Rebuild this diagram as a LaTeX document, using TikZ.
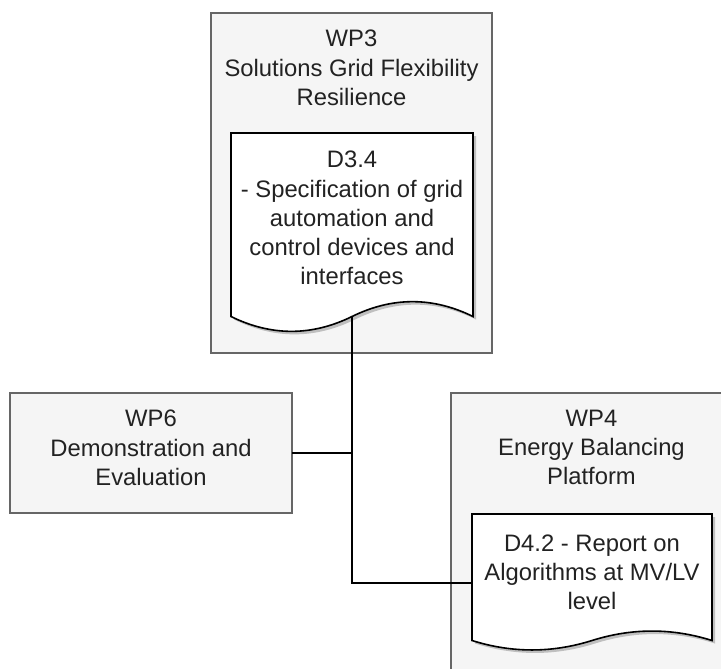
\documentclass[tikz,border=0pt]{standalone}
\usepackage{fontspec}
\setmainfont{Liberation Sans}
\begin{document}
\begin{tikzpicture}[x=0.75pt,y=-0.75pt,
  wpbox/.style={draw=boxline,fill=boxfill,line width=1.1pt,rectangle,inner sep=0pt,outer sep=0pt,anchor=north west},
  txt/.style={text=txtcol,align=center,inner sep=0pt,anchor=north,font=\fontsize{17.85}{21.9}\selectfont},
  docshape/.style={draw=black,fill=white,line width=1.2pt,line join=miter},
  docshadow/.style={fill=black,fill opacity=0.22,draw=none},
  conn/.style={draw=black,line width=1.1pt}]
\definecolor{boxline}{HTML}{666666}
\definecolor{boxfill}{HTML}{F5F5F5}
\definecolor{txtcol}{HTML}{222222}
\useasboundingbox (0,0) rectangle (721,668);
\clip (0,0) rectangle (721,668);
% work package boxes
\node[wpbox,minimum width=210.75pt,minimum height=255pt] (wp3) at (211,13) {};
\node[wpbox,minimum width=211.5pt,minimum height=90pt] (wp6) at (10,393) {};
\node[wpbox,minimum width=210.75pt,minimum height=245.25pt] (wp4) at (451,393) {};
% titles
\node[txt] (wp3t) at (351.5,30) {WP3\\Solutions Grid Flexibility\\Resilience};
\node[txt] (wp6t) at (151,410) {WP6\\Demonstration and\\Evaluation};
\node[txt] (wp4t) at (591.5,409.5) {WP4\\Energy Balancing\\Platform};
% document D3.4
\path[docshadow,shift={(3,3)}] (231,133) -- (473,133) -- (473,316.5) .. controls (432.7,296.7) and (392.3,296.7) .. (352,316.5) .. controls (311.7,336.3) and (271.3,336.3) .. (231,316.5) -- cycle;
\path[docshape] (231,133) -- (473,133) -- (473,316.5) .. controls (432.7,296.7) and (392.3,296.7) .. (352,316.5) .. controls (311.7,336.3) and (271.3,336.3) .. (231,316.5) -- cycle;
\node[txt] (d34t) at (352,151) {D3.4\\- Specification of grid\\automation and\\control devices and\\interfaces};
\coordinate (d34b) at (352,316.5);
% document D4.2
\path[docshadow,shift={(3,3)}] (472,514) -- (712,514) -- (712,640.5) .. controls (672,627.9) and (632,627.9) .. (592,640.5) .. controls (552,653.1) and (512,653.1) .. (472,640.5) -- cycle;
\path[docshape] (472,514) -- (712,514) -- (712,640.5) .. controls (672,627.9) and (632,627.9) .. (592,640.5) .. controls (552,653.1) and (512,653.1) .. (472,640.5) -- cycle;
\node[txt] (d42t) at (592,534.5) {D4.2 - Report on\\Algorithms at MV/LV\\level};
\coordinate (d42w) at (472,583);
% connectors
\draw[conn] (d34b) |- (d42w);
\draw[conn] (wp6.east) -- (wp6.east -| d34b);
\end{tikzpicture}
\end{document}
